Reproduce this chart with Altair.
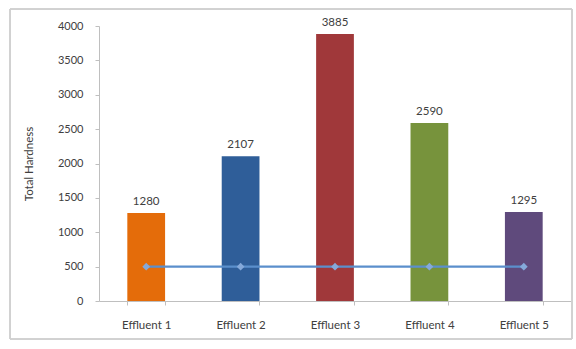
import altair as alt
import pandas as pd

categories = ["Effluent 1", "Effluent 2", "Effluent 3", "Effluent 4", "Effluent 5"]
hardness = [1280, 2107, 3885, 2590, 1295]
limit = [500, 500, 500, 500, 500]
y_ticks = [0, 500, 1000, 1500, 2000, 2500, 3000, 3500, 4000]
bar_colors = ["#E46C0A", "#2F5E99", "#A0383A", "#77933C", "#5F4A7C"]

df = pd.DataFrame({"cat": categories, "val": hardness, "limit": limit})

FONT = "Lato"
x_axis = alt.Axis(labelAngle=0, tickBand="extent", labelFontSize=11.5,
                  labelColor="#404040", labelFont=FONT, domainColor="#BFBFBF",
                  tickColor="#BFBFBF", tickSize=4, labelPadding=14)
x_scale = alt.Scale(paddingInner=0.6, paddingOuter=0.3)
y_axis = alt.Axis(values=y_ticks, grid=False, format="d",
                  labelOverlap=False, labelFlush=False,
                  labelFontSize=11, labelColor="#404040", labelFont=FONT,
                  titleFont=FONT, titleFontSize=11.5, titleFontWeight="normal",
                  titleColor="#404040", titlePadding=23,
                  domainColor="#BFBFBF", tickColor="#BFBFBF", tickSize=4,
                  labelPadding=12)
y_scale = alt.Scale(domain=[0, 4000], nice=False)


def xe():
    return alt.X("cat:N", sort=categories, title=None, scale=x_scale, axis=x_axis)


def ye(field):
    return alt.Y(field, title="Total Hardness", scale=y_scale, axis=y_axis)


bars = alt.Chart(df).mark_bar().encode(
    x=xe(),
    y=ye("val:Q"),
    color=alt.Color("cat:N", sort=categories,
                    scale=alt.Scale(domain=categories, range=bar_colors), legend=None),
)

labels = alt.Chart(df).mark_text(dy=-11, fontSize=11.5, font=FONT, color="#404040").encode(
    x=xe(),
    y=ye("val:Q"),
    text="val:Q",
)

line = alt.Chart(df).mark_line(
    color="#5B8FCC", strokeWidth=2.2,
    point=alt.OverlayMarkDef(shape="diamond", size=60, filled=True, color="#85A9DA"),
).encode(
    x=xe(),
    y=ye("limit:Q"),
)

border = alt.Chart(df).mark_rect(fill=None, stroke="#D0D0D0", strokeWidth=1).encode(
    x=alt.value(-89), x2=alt.value(473), y=alt.value(-17), y2=alt.value(313)
)

chart = alt.layer(border, bars, line, labels).properties(
    width=472, height=275,
    autosize=alt.AutoSizeParams(type="none"),
    padding={"left": 99, "top": 26, "right": 5, "bottom": 48},
    background="white",
).configure_view(stroke=None)

chart.save("out.html", embed_options={"renderer": "svg", "actions": False})
